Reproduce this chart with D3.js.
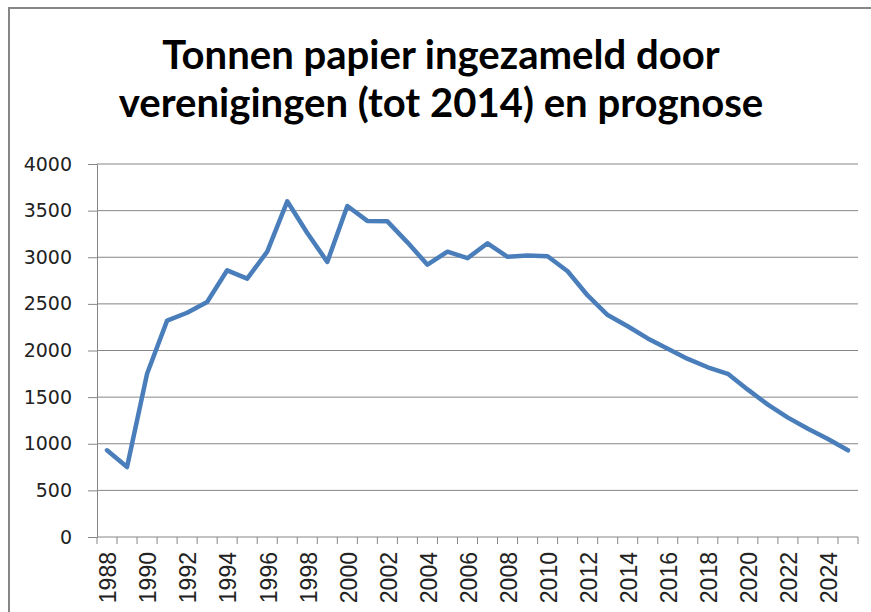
<!DOCTYPE html>
<html>
<head>
<meta charset="utf-8">
<script src="https://cdn.jsdelivr.net/npm/d3@7"></script>
<style>
  html, body { margin: 0; padding: 0; background: #fff; }
  svg { display: block; }
</style>
</head>
<body>
<svg id="chart"></svg>
<script>
// jaren (categorieën) en tonnen papier
const years = [
  "1988", "1989", "1990", "1991", "1992", "1993", "1994", "1995", "1996", "1997",
  "1998", "1999", "2000", "2001", "2002", "2003", "2004", "2005", "2006", "2007",
  "2008", "2009", "2010", "2011", "2012", "2013", "2014", "2015", "2016", "2017",
  "2018", "2019", "2020", "2021", "2022", "2023", "2024", "2025"
];
const tonnen = [
  930, 750, 1750, 2320, 2405, 2520, 2860, 2770, 3060, 3600,
  3260, 2950, 3550, 3390, 3385, 3160, 2920, 3060, 2990, 3150,
  3005, 3020, 3010, 2850, 2590, 2380, 2260, 2130, 2020, 1910,
  1820, 1750, 1580, 1420, 1280, 1160, 1050, 930
];
const yTicks = [0, 500, 1000, 1500, 2000, 2500, 3000, 3500, 4000];
const xLabels = ["1988", "1990", "1992", "1994", "1996", "1998", "2000", "2002", "2004", "2006",
  "2008", "2010", "2012", "2014", "2016", "2018", "2020", "2022", "2024"];
const titleLines = ["Tonnen papier ingezameld door", "verenigingen (tot 2014) en prognose"];

const width = 871, height = 612;
const margin = {top: 164, right: 13, bottom: 75, left: 97};
const gray = "#868686";

const svg = d3.select("#chart").attr("width", width).attr("height", height);

// kader van de grafiek (alleen links en boven zichtbaar)
svg.append("rect")
    .attr("x", 9).attr("y", 8)
    .attr("width", width + 20).attr("height", height + 20)
    .attr("fill", "none")
    .attr("stroke", gray)
    .attr("stroke-width", 2);

const x = d3.scaleBand()
    .domain(years)
    .range([margin.left, width - margin.right])
    .padding(0);

const y = d3.scaleLinear()
    .domain([0, 4000])
    .range([height - margin.bottom, margin.top]);

// titel
const title = svg.append("g")
    .attr("text-anchor", "middle")
    .style("font-family", "Lato, 'Open Sans', sans-serif")
    .style("font-weight", "bold")
    .style("font-size", "40px")
    .attr("fill", "#000");

title.selectAll("text")
    .data(titleLines)
  .enter().append("text")
    .attr("x", 441)
    .attr("y", (d, i) => 69 + i * 48)
    .text(d => d);

// schaal titel naar breedte van het origineel
const first = title.select("text").node();
const w = first.getComputedTextLength();
title.style("font-size", (40 * 558 / w).toFixed(1) + "px");

// rasterlijnen
svg.append("g")
    .selectAll("line")
    .data(yTicks.filter(d => d > 0))
  .enter().append("line")
    .attr("x1", margin.left)
    .attr("x2", width - margin.right)
    .attr("y1", d => y(d))
    .attr("y2", d => y(d))
    .attr("stroke", gray)
    .attr("stroke-width", 1);

// y-as
const yAxis = svg.append("g")
    .attr("transform", `translate(${margin.left},0)`)
    .call(d3.axisLeft(y).tickValues(yTicks).tickFormat(d3.format("d"))
      .tickSize(9).tickPadding(16).tickSizeOuter(0));
yAxis.select(".domain").attr("stroke", gray);
yAxis.selectAll(".tick line").attr("stroke", gray);
yAxis.attr("font-size", 19).attr("font-family", "'DejaVu Sans', sans-serif");
yAxis.selectAll("text").attr("fill", "#222");

// x-as met streepjes tussen de jaren
const xAxis = svg.append("g")
    .attr("transform", `translate(0,${y(0)})`);
xAxis.append("line")
    .attr("x1", margin.left)
    .attr("x2", width - margin.right)
    .attr("stroke", gray);
xAxis.selectAll(".sep")
    .data(years.concat(["end"]))
  .enter().append("line")
    .attr("class", "sep")
    .attr("x1", d => d === "end" ? x.range()[1] : x(d))
    .attr("x2", d => d === "end" ? x.range()[1] : x(d))
    .attr("y1", 0)
    .attr("y2", 7)
    .attr("stroke", gray);
xAxis.selectAll(".lbl")
    .data(xLabels)
  .enter().append("text")
    .attr("class", "lbl")
    .attr("transform", d => `translate(${x(d) + x.bandwidth() / 2 + 1},15) rotate(-90)`)
    .attr("dy", "0.36em")
    .attr("text-anchor", "end")
    .attr("fill", "#222")
    .attr("font-family", "'Liberation Sans', Arial, sans-serif")
    .attr("font-size", 23)
    .text(d => d);

// lijn
const line = d3.line()
    .x((d, i) => x(years[i]) + x.bandwidth() / 2)
    .y(d => y(d));

svg.append("path")
    .datum(tonnen)
    .attr("d", line)
    .attr("fill", "none")
    .attr("stroke", "#4a7ebb")
    .attr("stroke-width", 4.5)
    .attr("stroke-linejoin", "round")
    .attr("stroke-linecap", "round");
</script>
</body>
</html>
